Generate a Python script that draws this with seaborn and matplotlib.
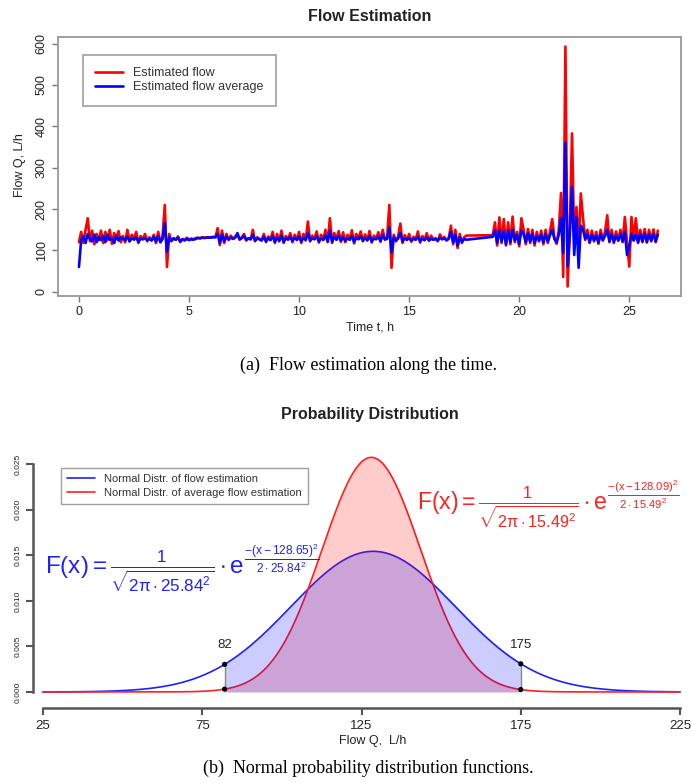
import numpy as np
import matplotlib
matplotlib.use("Agg")
import matplotlib.pyplot as plt
import seaborn as sns

# ---- data: flow estimation along the time (sampled every 0.1 h) ----
# segment 1 starts at t = 0.0 h, segment 2 starts at t = 18.8 h (no samples in between)
flow_seg1 = [
    120, 145, 118, 150, 178, 122, 148, 115, 140, 125,
    148, 118, 145, 125, 150, 116, 142, 128, 147, 120,
    135, 120, 150, 122, 138, 128, 145, 118, 135, 127,
    140, 122, 132, 125, 138, 118, 145, 120, 135, 210,
    60, 140, 122, 130, 126, 134, 120, 128, 124, 131,
    126, 129, 127, 130, 131, 130, 132, 131, 132, 132,
    132, 133, 132, 154, 113, 148, 118, 140, 125, 136,
    128, 134, 138, 126, 132, 140, 124, 130, 127, 150,
    122, 132, 128, 125, 140, 120, 134, 126, 145, 118,
    140, 122, 148, 118, 135, 127, 142, 120, 138, 125,
    145, 118, 140, 124, 170, 122, 136, 128, 146, 119,
    138, 125, 150, 120, 178, 118, 142, 126, 147, 121,
    144, 120, 138, 126, 149, 117, 140, 128, 146, 122,
    139, 124, 147, 119, 136, 128, 144, 121, 150, 126,
    132, 210, 58, 138, 122, 134, 165, 118, 137, 125,
    140, 121, 133, 127, 146, 119, 135, 125, 142, 123,
    136, 126, 130, 122, 139, 128, 133, 124, 131, 160,
    115, 150, 106, 140, 118, 132, 136,
]
flow_seg2 = [
    137, 168,
    112, 180, 118, 176, 112, 168, 115, 182, 120, 145,
    110, 178, 150, 115, 152, 118, 150, 112, 145, 122,
    148, 115, 150, 118, 146, 176, 130, 116, 150, 239,
    36, 593, 13, 150, 383, 120, 205, 110, 238, 178,
    125, 150, 118, 148, 122, 145, 116, 150, 124, 146,
    185, 120, 150, 118, 146, 124, 150, 120, 181, 120,
    61, 181, 125, 178, 118, 150, 120, 152, 119, 150,
    122, 151, 120, 148,
]
avg_seg1 = [
    60, 125, 135, 118, 140, 128, 122, 138, 120, 132,
    125, 135, 120, 138, 126, 130, 118, 136, 124, 132,
    128, 124, 134, 122, 130, 126, 132, 121, 129, 127,
    130, 125, 128, 124, 133, 122, 135, 120, 128, 166,
    97, 132, 124, 129, 126, 131, 122, 127, 125, 128,
    125, 127, 126, 128, 130, 129, 131, 130, 131, 131,
    131, 132, 132, 140, 118, 138, 122, 134, 127, 131,
    128, 131, 142, 127, 130, 135, 126, 129, 127, 138,
    124, 129, 127, 124, 133, 122, 130, 125, 135, 121,
    131, 124, 136, 121, 130, 126, 133, 123, 131, 126,
    133, 122, 131, 126, 142, 124, 130, 127, 135, 122,
    129, 126, 136, 122, 148, 121, 133, 126, 136, 124,
    132, 123, 130, 126, 135, 121, 131, 127, 134, 124,
    130, 125, 135, 122, 129, 127, 134, 123, 137, 127,
    128, 155, 95, 132, 124, 129, 142, 122, 130, 126,
    130, 124, 128, 126, 134, 122, 129, 125, 132, 125,
    128, 126, 128, 124, 131, 127, 129, 125, 128, 145,
    120, 138, 112, 132, 121, 128, 126,
]
avg_seg2 = [
    133, 148,
    118, 150, 122, 146, 115, 148, 120, 150, 124, 138,
    116, 148, 140, 120, 142, 122, 140, 118, 136, 124,
    138, 120, 140, 122, 137, 150, 128, 120, 138, 178,
    94, 360, 61, 140, 254, 89, 181, 58, 160, 150,
    128, 140, 120, 138, 124, 136, 119, 140, 125, 135,
    150, 122, 140, 121, 136, 124, 140, 122, 145, 89,
    110, 140, 124, 138, 120, 140, 122, 141, 121, 139,
    124, 140, 122, 138,
]
seg2_start = 18.8
step_h = 0.1

# ---- data: normal distributions ----
mu_flow, sd_flow = 128.65, 25.84
mu_avg, sd_avg = 128.09, 15.49
q_low, q_high = 82, 175
q_range = (25, 225)


def times(seg1, seg2):
    t1 = np.arange(len(seg1)) * step_h
    t2 = seg2_start + np.arange(len(seg2)) * step_h
    return np.r_[t1, t2], np.r_[seg1, seg2]


def normal_pdf(x, mu, sd):
    return np.exp(-(x - mu) ** 2 / (2 * sd ** 2)) / np.sqrt(2 * np.pi * sd ** 2)


sns.set_style("ticks")
plt.rcParams['font.family'] = ['Liberation Sans', 'DejaVu Sans']
plt.rcParams['mathtext.fontset'] = 'custom'
plt.rcParams['mathtext.rm'] = 'Liberation Sans'
plt.rcParams['mathtext.it'] = 'Liberation Sans'
plt.rcParams['mathtext.bf'] = 'Liberation Sans:bold'

fig = plt.figure(figsize=(6.91, 7.83), dpi=100)
txt = '#222222'

# ---------------- top panel ----------------
ax1 = fig.add_axes([0.084, 0.622, 0.9015, 0.3307])
t_f, v_f = times(flow_seg1, flow_seg2)
t_a, v_a = times(avg_seg1, avg_seg2)
sns.lineplot(x=t_f, y=v_f, ax=ax1, color='#FF0000', lw=1.9, estimator=None,
             sort=False, label='Estimated flow')
sns.lineplot(x=t_a, y=v_a, ax=ax1, color='#0000FF', lw=1.9, estimator=None,
             sort=False, label='Estimated flow average')
ax1.set_xlim(-0.95, 27.35)
ax1.set_ylim(-10, 616)
ax1.set_xticks([0, 5, 10, 15, 20, 25])
ax1.set_yticks([0, 100, 200, 300, 400, 500, 600])
for s in ax1.spines.values():
    s.set_color('#999999')
    s.set_linewidth(1.3)
ax1.tick_params(colors='#777777', labelcolor=txt, labelsize=9, length=4, width=1)
ax1.tick_params(axis='y', labelrotation=90)
for lab in ax1.get_yticklabels():
    lab.set_va('center')
ax1.set_xlabel('')
ax1.set_ylabel('')
leg = ax1.legend(loc='upper left', bbox_to_anchor=(0.03, 0.955), fontsize=9,
                 frameon=True, fancybox=False, handlelength=2.2,
                 borderpad=1.0, labelspacing=0.15)
leg.get_frame().set_edgecolor('#888888')
leg.get_frame().set_linewidth(1.2)
for t in leg.get_texts():
    t.set_color('#333333')

fig.text(0.535, 0.979, 'Flow Estimation', ha='center', va='center',
         fontsize=11.5, fontweight='bold', color=txt)
fig.text(0.535, 0.582, 'Time t, h', ha='center', va='center', fontsize=9, color=txt)
fig.text(0.029, 0.789, 'Flow Q, L/h', ha='center', va='center', rotation=90,
         fontsize=9, color=txt)
fig.text(0.533, 0.534, '(a)  Flow estimation along the time.', ha='center',
         va='center', fontsize=13, family='Liberation Serif', color='black')

# ---------------- bottom panel ----------------
ax2 = fig.add_axes([0.0478, 0.0958, 0.9522, 0.3282])
q = np.linspace(q_range[0], q_range[1], 801)
pdf_flow = normal_pdf(q, mu_flow, sd_flow)
pdf_avg = normal_pdf(q, mu_avg, sd_avg)
sns.lineplot(x=q, y=pdf_flow, ax=ax2, color='#2020FF', lw=1.2,
             label='Normal Distr. of flow estimation')
sns.lineplot(x=q, y=pdf_avg, ax=ax2, color='#FF2020', lw=1.2,
             label='Normal Distr. of average flow estimation')
band = (q >= q_low) & (q <= q_high)
ax2.fill_between(q[band], 0, pdf_avg[band], color='#FF0000', alpha=0.2,
                 lw=0, zorder=3)
ax2.fill_between(q[band], 0, pdf_flow[band], color='#0000FF', alpha=0.2,
                 lw=0, zorder=3)
for xq in (q_low, q_high):
    yb = normal_pdf(xq, mu_flow, sd_flow)
    yr = normal_pdf(xq, mu_avg, sd_avg)
    ax2.vlines(xq, yr, yb, color='#888888', lw=1, zorder=4)
    sns.scatterplot(x=[xq, xq], y=[yb, yr], ax=ax2, color='black', s=14,
                    zorder=5, edgecolor='none', legend=False)
    ax2.text(xq, 0.0052, str(xq), ha='center', va='center', fontsize=9.5, color=txt)

ax2.set_xlim(21.86, 228.45)
ax2.set_ylim(-0.00176, 0.02645)
ax2.set_xticks([25, 75, 125, 175, 225])
ax2.set_yticks([0, 0.005, 0.010, 0.015, 0.020, 0.025])
ax2.set_yticklabels(['0.000', '0.005', '0.010', '0.015', '0.020', '0.025'])
ax2.spines['top'].set_visible(False)
ax2.spines['right'].set_visible(False)
ax2.spines['bottom'].set_bounds(25, 225)
ax2.spines['left'].set_bounds(0, 0.025)
for side in ('bottom', 'left'):
    ax2.spines[side].set_color('#555555')
    ax2.spines[side].set_linewidth(1.8)
ax2.tick_params(colors='#555555', labelcolor=txt, length=5, width=1.5)
ax2.tick_params(axis='x', labelsize=9.5)
ax2.tick_params(axis='y', labelsize=6, labelrotation=90)
for lab in ax2.get_yticklabels():
    lab.set_va('center')
ax2.set_xlabel('')
ax2.set_ylabel('')
leg2 = ax2.legend(loc='upper left', bbox_to_anchor=(0.0334, 0.957), fontsize=8,
                  frameon=True, fancybox=False, handlelength=2.5,
                  borderpad=0.6, labelspacing=0.3)
leg2.get_frame().set_edgecolor('#888888')
leg2.get_frame().set_linewidth(1.0)
for t in leg2.get_texts():
    t.set_color('#333333')

blue_formula = (r'$F(x) = \frac{1}{\sqrt{2\pi \cdot %.2f^2}} \cdot '
                r'e^{\frac{-(x - %.2f)^2}{2 \cdot %.2f^2}}$' % (sd_flow, mu_flow, sd_flow))
red_formula = (r'$F(x) = \frac{1}{\sqrt{2\pi \cdot %.2f^2}} \cdot '
               r'e^{\frac{-(x - %.2f)^2}{2 \cdot %.2f^2}}$' % (sd_avg, mu_avg, sd_avg))
ax2.text(25.6, 0.0136, blue_formula, ha='left', va='center', fontsize=17.5,
         color='#2020FF', zorder=6)
ax2.text(142.5, 0.0206, red_formula, ha='left', va='center', fontsize=16.6,
         color='#FF2020', zorder=6, clip_on=False)

fig.text(0.535, 0.471, 'Probability Distribution', ha='center', va='center',
         fontsize=11.5, fontweight='bold', color=txt)
fig.text(0.54, 0.054, 'Flow Q,  L/h', ha='center', va='center', fontsize=9, color=txt)
fig.text(0.533, 0.019, '(b)  Normal probability distribution functions.',
         ha='center', va='center', fontsize=13, family='Liberation Serif', color='black')

fig.savefig('out.png', dpi=100)
